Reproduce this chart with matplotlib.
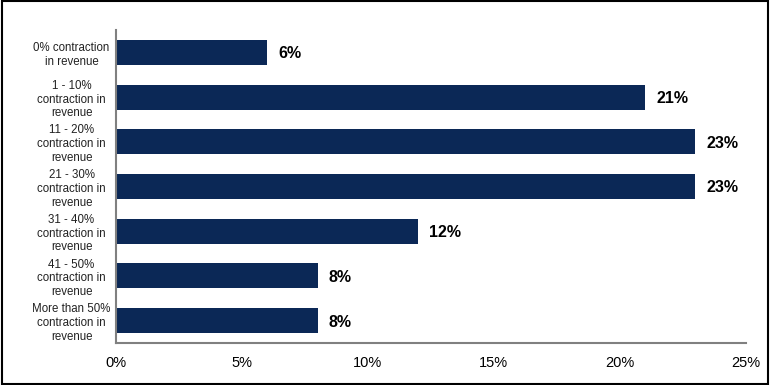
import matplotlib
matplotlib.use("Agg")
import matplotlib.pyplot as plt
from matplotlib.patches import Rectangle
from matplotlib.ticker import FuncFormatter

categories = ["0% contraction\nin revenue", "1 - 10%\ncontraction in\nrevenue",
              "11 - 20%\ncontraction in\nrevenue", "21 - 30%\ncontraction in\nrevenue",
              "31 - 40%\ncontraction in\nrevenue", "41 - 50%\ncontraction in\nrevenue",
              "More than 50%\ncontraction in\nrevenue"]
values = [6, 21, 23, 23, 12, 8, 8]
xticks = [0, 5, 10, 15, 20, 25]

plt.rcParams['font.family'] = ['Liberation Sans', 'DejaVu Sans']
fig = plt.figure(figsize=(7.7, 3.85), dpi=100)
ax = fig.add_axes([0.1506, 0.109, 0.818, 0.813])
ys = list(range(len(categories)))
ax.barh(ys, values, height=0.56, color="#0b2856")
for y, v in zip(ys, values):
    ax.text(v + 0.44, y + 0.03, f"{v}%", va="center", ha="left", fontsize=11.5,
            fontweight="bold", color="black")
ax.set_ylim(len(categories) - 0.5, -0.5)
ax.set_xlim(0, 25)
ax.set_yticks(ys)
ax.set_yticklabels(categories, fontsize=8.3, color="#222222", linespacing=1.2)
ax.set_xticks(xticks)
ax.xaxis.set_major_formatter(FuncFormatter(lambda x, p: f"{int(x)}%"))
ax.tick_params(axis="x", length=0, labelsize=10.5, pad=9.5)
ax.tick_params(axis="y", length=0, pad=32)
for lab in ax.get_yticklabels():
    lab.set_horizontalalignment("center")
ax.spines["top"].set_visible(False)
ax.spines["right"].set_visible(False)
ax.spines["left"].set_color("#808080")
ax.spines["bottom"].set_color("#808080")
ax.spines["left"].set_linewidth(1.5)
ax.spines["bottom"].set_linewidth(1.5)
fig.patches.append(Rectangle((0.002, 0.003), 0.996, 0.994, transform=fig.transFigure,
                             fill=False, edgecolor="black", linewidth=1.5))
fig.savefig("out.png", dpi=100)
